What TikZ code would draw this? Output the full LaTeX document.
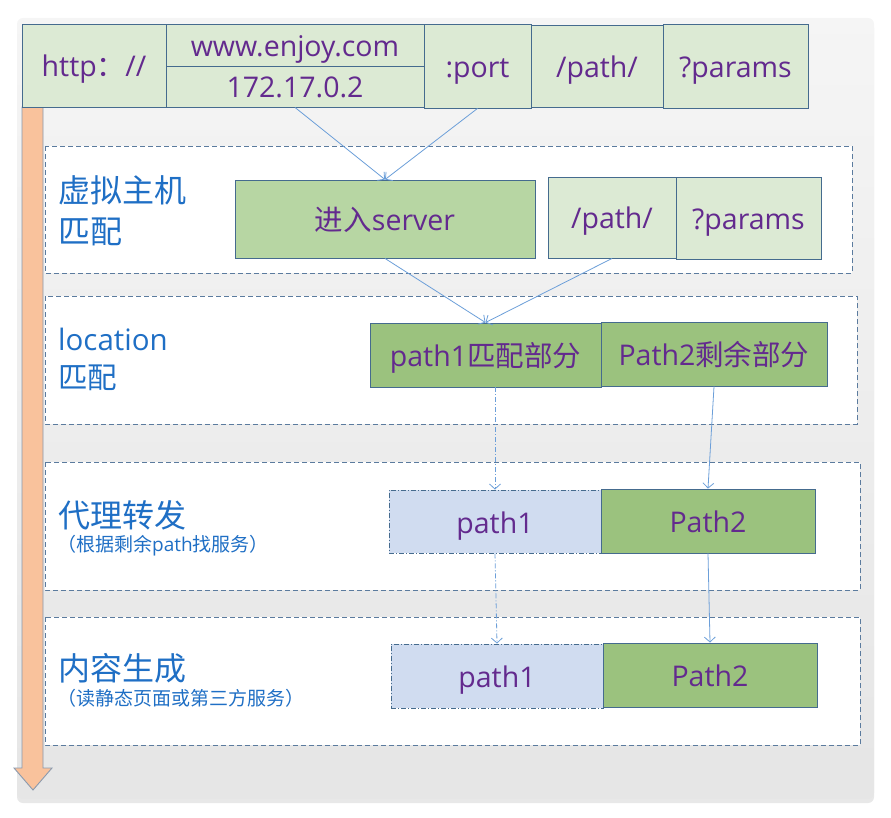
\documentclass[tikz,border=0pt]{standalone}
\usepackage{fontspec}
\setmainfont{Open Sans}
\newfontfamily\cjk{Noto Sans CJK SC}
\usetikzlibrary{arrows.meta,shadows}

\definecolor{edge}{HTML}{456B8E}
\definecolor{txt}{HTML}{632A8E}
\definecolor{capblue}{HTML}{1F6FC5}
\definecolor{dashline}{HTML}{5B7B9E}
\definecolor{linkblue}{HTML}{6C9FD9}
\definecolor{urlgreen}{HTML}{DCEAD4}
\definecolor{midgreen}{HTML}{B7D6A3}
\definecolor{deepgreen}{HTML}{9BC27E}
\definecolor{paleblue}{HTML}{D0DCF0}
\definecolor{flow}{HTML}{F9C29C}
\definecolor{flowedge}{HTML}{8A9AAE}

\begin{document}
\begin{tikzpicture}[x=1pt, y=-1pt,
		part/.style={draw=edge, line width=.9pt, text=txt, inner sep=0pt,
			text height=29pt, text depth=6pt, font=\fontsize{28.5}{32}\selectfont},
		url/.style={part, fill=urlgreen},
		hit/.style={part, fill=midgreen},
		seg/.style={part, fill=deepgreen},
		skip/.style={part, fill=paleblue, dash pattern=on 5pt off 2pt on 1pt off 2pt},
		stage/.style={draw=dashline, fill=white, line width=.8pt, dash pattern=on 5pt off 3pt},
		caption/.style={anchor=west, text=capblue, align=left, inner sep=0pt,
			font=\fontsize{32}{41}\selectfont\cjk},
		note/.style={anchor=west, text=capblue, inner sep=0pt,
			font=\fontsize{19}{22}\selectfont},
		link/.style={draw=linkblue, line width=.8pt, ->},
		>={Straight Barb[length=5pt, width=11pt]}]
	\useasboundingbox (0,0) rectangle (891,818);
	% panel and time arrow
	\draw[rounded corners=6pt, draw=none, top color=gray!8, bottom color=gray!20,
		drop shadow={opacity=.18, shadow xshift=0pt, shadow yshift=-4pt}]
		(17,18) rectangle (874,799);
	\draw[draw=flowedge, fill=flow, line width=.9pt]
		(22,107) -- (43,107) -- (43,768) -- (52,768) -- (33,790) -- (14,768) -- (22,768) -- cycle;
	% stages
	\draw[stage] (45,146) rectangle (852,273);
	\draw[stage] (45,296) rectangle (857,424);
	\draw[stage] (45,462) rectangle (860,590);
	\draw[stage] (45,617) rectangle (860,745);
	% url
	\node[url, minimum width=144pt, minimum height=83pt] (http) at (94,65.5) {http{\cjk ：}//};
	\node[url, minimum width=258pt, minimum height=42pt] (dom) at (295,45) {www.enjoy.com};
	\node[url, minimum width=258pt, minimum height=41pt] (ip) at (295,86.5) {172.17.0.2};
	\node[url, minimum width=107pt, minimum height=84pt] (port) at (477.5,66) {:port};
	\node[url, minimum width=132pt, minimum height=82pt] (path) at (597,66) {/path/};
	\node[url, minimum width=145pt, minimum height=84pt] (params) at (735.5,66) {?params};
	% virtual host
	\node[caption] (vhost) at (58,211) {虚拟主机\\匹配};
	\node[hit, minimum width=300pt, minimum height=78pt] (server) at (385,219) {{\cjk 进入}server};
	\node[url, minimum width=128pt, minimum height=81pt] (vpath) at (612,217.5) {/path/};
	\node[url, minimum width=145pt, minimum height=82pt] (vparams) at (748.5,218) {?params};
	% location
	\node[caption, font=\fontsize{29.5}{38}\selectfont] (loc) at (58,359) {location\\{\cjk 匹配}};
	\node[seg, minimum width=231pt, minimum height=64pt] (match) at (485.5,355) {path1{\cjk 匹配部分}};
	\node[seg, minimum width=226pt, minimum height=64pt] (rest) at (714,354) {Path2{\cjk 剩余部分}};
	% proxy
	\node[caption] (proxy) at (58,515) {代理转发};
	\node[note] (proxynote) at (57,546) {{\cjk （根据剩余}path{\cjk 找服务）}};
	\node[skip, minimum width=212pt, minimum height=63pt] (pa) at (495,521.5) {path1};
	\node[seg, minimum width=214pt, minimum height=64pt] (pb) at (708,521) {Path2};
	% content
	\node[caption] (gen) at (58,668) {内容生成};
	\node[note] (gennote) at (57,698) {\cjk （读静态页面或第三方服务）};
	\node[skip, minimum width=212pt, minimum height=64pt] (ca) at (497,676) {path1};
	\node[seg, minimum width=214pt, minimum height=64pt] (cb) at (710,675) {Path2};
	% links
	\draw[link] (ip.south) -- (server.north);
	\draw[link] (port.south) -- (server.north);
	\draw[link] (server.south) -- (match.north);
	\draw[link] (vpath.south) -- (match.north);
	\draw[link, dash pattern=on 5pt off 2pt on 1pt off 2pt] (pa.north |- match.south) -- (pa.north);
	\draw[link] (rest.south) -- (pb.north);
	\draw[link, dash pattern=on 5pt off 2pt on 1pt off 2pt] (pa.south) -- (ca.north);
	\draw[link] (pb.south) -- (cb.north);
\end{tikzpicture}
\end{document}
